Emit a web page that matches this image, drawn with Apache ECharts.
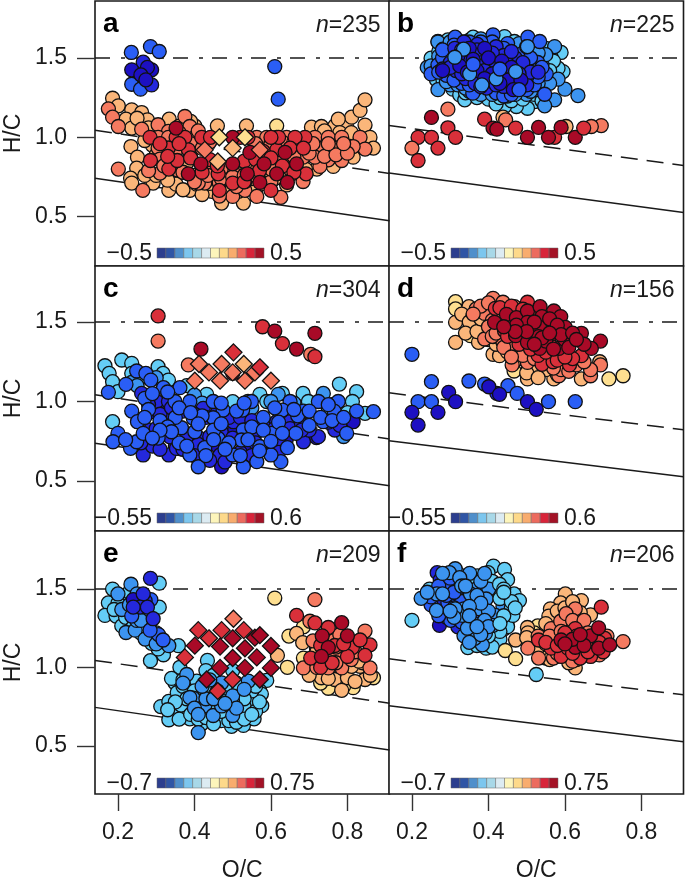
<!DOCTYPE html>
<html>
<head>
<meta charset="utf-8">
<style>html,body{margin:0;padding:0;background:#fff}</style>
<script src="https://cdn.jsdelivr.net/npm/echarts@6/dist/echarts.min.js"></script>
</head>
<body>
<div id="chart" style="width:685px;height:883px"></div>
<script>
// [O/C, H/C, colour class], colour class runs 0 (most negative) to 11 (most positive)
const pointsA = [
[.186,1.246,8],[.201,1.198,8],[.236,1.173,8],[.221,1.114,8],[.262,1.156,8],[.277,1.11,8],[.236,1.058,8],[.334,1.114,8],[.401,1.072,8],[.46,1.072,8],[.536,1.072,8],[.615,1.072,7],[.706,1.064,8],[.732,1.068,8],[.767,1.072,8],[.798,1.068,8],[.811,1.127,8],[.776,1.114,8],[.833,1.169,8],[.846,1.236,8],[.846,1.077,8],[.859,1,8],[.868,.932,8],[.234,.942,8],[.251,.875,8],[.249,.806,8],[.233,.743,8],[.236,.712,8],[.292,.712,8],[.333,.666,8],[.352,.705,8],[.388,.666,8],[.471,.586,8],[.528,.586,8],[.406,.705,8],[.763,.817,8],[.815,.875,8],[.51,.775,8],[.641,.7,8],[.563,.817,8],[.29,.95,8],[.27,.98,8],[.32,.79,8],[.4,.76,8],[.445,.66,8],[.515,.66,8],[.56,.67,8],[.45,.79,8],[.54,.8,8],[.6,.78,8],[.72,.8,8],
[.3,.89,8],[.33,.87,8],[.38,.84,8],[.27,.76,8],[.3,.76,8],[.33,.73,8],[.37,.67,8],[.42,.64,8],[.44,.71,8],[.48,.68,8],[.52,.72,8],[.55,.74,8],[.58,.71,8],[.61,.74,8],[.65,.76,8],[.69,.8,8],[.745,.86,8],[.8,.94,8],[.83,.96,8],[.74,1.04,8],[.78,1.03,8],[.81,1.03,8],[.3,1.05,8],[.39,1.1,8],[.36,1.07,8],[.28,1.06,8],[.25,1.12,8],
[.175,1.179,9],[.186,1.127,9],[.201,1.068,9],[.262,1.051,9],[.201,.8,9],[.265,.666,9],[.375,1.131,9],[.305,1.079,9],[.332,1.037,9],[.388,1.068,9],[.305,1,9],[.332,1,9],[.401,1,9],[.563,1,9],[.589,1,9],[.615,1,9],[.641,1,9],[.715,1,9],[.75,1,9],[.785,1,9],[.833,1,9],[.846,.926,9],[.815,.942,9],[.772,.932,9],[.737,.932,9],[.75,.858,9],[.785,.854,9],[.728,.817,9],[.715,.875,9],[.684,.875,9],[.305,.932,9],[.332,.932,9],[.358,.932,9],[.31,.863,9],[.355,.795,9],[.31,.775,9],[.427,.712,9],[.41,.712,9],[.465,.712,9],[.5,.628,9],[.532,.666,9],[.563,.628,9],[.626,.622,9],[.5,.785,9],[.532,.722,9],[.684,.722,9],[.39,.88,9],[.43,.8,9],[.47,.8,9],[.56,.76,9],[.65,.8,9],[.6,.72,9],[.465,.63,9],[.68,.97,9],
[.36,1.03,9],[.41,1.04,9],[.44,.97,9],[.32,.82,9],[.34,.84,9],[.28,.79,9],[.37,.78,9],[.4,.72,9],[.435,.76,9],[.47,.74,9],[.5,.75,9],[.53,.76,9],[.565,.8,9],[.6,.8,9],[.63,.85,9],[.66,.88,9],[.7,.9,9],[.74,.88,9],[.77,.89,9],[.8,.9,9],[.71,.96,9],[.75,.96,9],[.79,.96,9],[.6,.96,9],[.63,.97,9],[.66,.97,9],[.56,.96,9],[.39,.96,9],[.36,.97,9],[.42,.93,9],[.51,.69,9],
[.284,1,10],[.352,1,10],[.375,1,10],[.332,.932,10],[.384,.921,10],[.285,.854,10],[.333,.8,10],[.355,.854,10],[.419,1,10],[.442,1,10],[.689,1,10],[.663,1,10],[.615,.921,10],[.65,.932,10],[.685,.932,10],[.692,.77,10],[.462,.77,10],[.5,.712,10],[.465,.666,10],[.6,.666,10],[.58,.911,10],[.52,1,10],[.54,1,10],
[.31,.96,10],[.36,.96,10],[.33,.88,10],[.39,.87,10],[.44,.86,10],[.42,.78,10],[.46,.82,10],[.53,.85,10],[.56,.86,10],[.6,.87,10],[.63,.82,10],[.66,.78,10],[.57,.79,10],[.53,.72,10],[.62,1,10],[.6,1,10],
[.352,1.058,11],[.5,1,11],[.417,.833,11],[.5,.833,11],[.538,.77,11],[.582,.833,11],[.571,.716,11],[.615,.77,11],[.643,.716,11],[.637,.905,11],[.667,.833,11],[.545,.905,11],[.384,.77,11],
[.235,1.534,2],[.285,1.571,2],[.308,1.54,2],[.236,1.334,2],[.259,1.303,2],[.61,1.445,2],[.619,1.24,2],[.288,1.33,1],[.266,1.473,1],[.236,1.425,0],[.288,1.425,0],[.277,1.44,0],[.26,1.393,0],[.273,1.362,0]
];
const diamondsA = [[.465,1,7],[.532,1,7],[.5,.932,8],[.461,.848,8],[.427,.921,9],[.571,.921,9]];

const pointsB = [
[.268,1.603,4],[.294,1.613,4],[.25,1.498,4],[.264,1.362,4],[.281,1.362,4],[.307,1.303,4],[.325,1.267,4],[.338,1.236,4],[.442,1.634,4],[.468,1.603,4],[.59,1.534,4],[.564,1.504,4],[.538,1.54,4],[.595,1.414,4],[.582,1.435,4],[.521,1.225,4],[.502,1.183,4],[.473,1.194,4],[.442,1.194,4],[.407,1.592,4],[.351,1.613,4],[.37,1.58,4],[.4,1.24,4],[.42,1.21,4],[.55,1.46,4],[.56,1.4,4],
[.27,1.54,4],[.29,1.58,4],[.3,1.39,4],[.34,1.28,4],[.37,1.25,4],[.43,1.25,4],[.46,1.23,4],[.49,1.24,4],[.52,1.27,4],[.54,1.23,4],[.5,1.6,4],[.52,1.57,4],[.55,1.56,4],[.57,1.48,4],[.56,1.42,4],[.33,1.6,4],[.36,1.63,4],
[.6,1.303,3],[.582,1.366,3],[.573,1.236,3],[.547,1.198,3],[.268,1.6,3],[.281,1.555,3],[.573,1.571,3],[.634,1.263,3],[.268,1.3,3],[.3,1.33,3],[.48,1.48,3],[.53,1.3,3],[.55,1.33,3],[.5,1.27,3],[.45,1.26,3],[.38,1.27,3],[.35,1.29,3],[.52,1.49,3],[.56,1.34,3],[.43,1.55,3],[.36,1.53,3],[.24,1.44,3],
[.25,1.45,3],[.26,1.41,3],[.29,1.35,3],[.32,1.33,3],[.34,1.31,3],[.37,1.31,3],[.41,1.27,3],[.44,1.29,3],[.47,1.27,3],[.51,1.29,3],[.53,1.34,3],[.54,1.4,3],[.54,1.46,3],[.55,1.52,3],[.53,1.53,3],[.48,1.59,3],[.38,1.62,3],[.33,1.58,3],[.3,1.6,3],[.27,1.51,3],
[.412,1.645,2],[.313,1.63,2],[.503,1.63,2],[.534,1.603,2],[.25,1.399,2],[.268,1.456,2],[.359,1.278,2],[.529,1.471,2],[.551,1.399,2],[.547,1.271,2],[.32,1.39,2],[.51,1.36,2],[.47,1.33,2],[.41,1.31,2],[.33,1.34,2],[.28,1.5,2],[.31,1.58,2],[.45,1.59,2],[.52,1.42,2],[.4,1.42,2],[.49,1.53,2],
[.28,1.55,2],[.29,1.39,2],[.31,1.36,2],[.35,1.33,2],[.38,1.36,2],[.42,1.28,2],[.44,1.26,2],[.46,1.27,2],[.5,1.3,2],[.52,1.33,2],[.53,1.38,2],[.54,1.44,2],[.51,1.5,2],[.5,1.57,2],[.44,1.56,2],[.41,1.6,2],[.38,1.6,2],[.35,1.6,2],[.32,1.55,2],[.27,1.41,2],
[.336,1.6,1],[.371,1.585,1],[.312,1.56,1],[.42,1.57,1],[.345,1.52,1],[.39,1.52,1],[.44,1.515,1],[.47,1.5,1],[.3,1.47,1],[.335,1.47,1],[.372,1.49,1],[.41,1.48,1],[.45,1.46,1],[.49,1.42,1],[.28,1.43,1],[.315,1.42,1],[.35,1.43,1],[.385,1.45,1],[.425,1.39,1],[.46,1.37,1],[.5,1.38,1],[.34,1.37,1],[.375,1.39,1],[.41,1.36,1],[.44,1.32,1],[.365,1.34,1],[.395,1.31,1],[.5,1.33,1],
[.33,1.55,1],[.37,1.55,1],[.41,1.53,1],[.46,1.54,1],[.49,1.47,1],[.51,1.41,1],[.53,1.41,1],[.47,1.33,1],[.42,1.33,1],[.38,1.32,1],[.33,1.4,1],[.3,1.44,1],[.39,1.42,1],[.44,1.42,1],[.48,1.4,1],
[.35,1.56,0],[.39,1.56,0],[.32,1.51,0],[.36,1.49,0],[.4,1.5,0],[.435,1.48,0],[.46,1.44,0],[.325,1.45,0],[.37,1.42,0],[.41,1.4,0],[.45,1.36,0],[.345,1.41,0],[.39,1.37,0],[.43,1.34,0],[.485,1.36,0],[.465,1.3,0],[.28,1.42,0],
[.351,1.399,3],[.383,1.33,3],[.42,1.368,3],[.471,1.414,3],[.335,1.555,3],[.312,1.504,3],[.502,1.571,3],[.48,1.3,2],[.43,1.43,2],[.36,1.46,2],
[.251,1.125,11],[.294,1.177,9],[.294,1.06,10],[.314,1,10],[.216,1,10],[.251,1,10],[.2,.932,9],[.268,.932,10],[.216,.854,10],[.39,1.114,10],[.438,1.127,8],[.445,1.11,9],[.412,1.058,11],[.422,1.051,11],[.471,1.058,10],[.502,1,11],[.603,1.068,8],[.531,1.062,11],[.573,1,10],[.557,1,11],[.59,1.062,11],[.627,1,11],[.695,1.074,9],[.669,1.068,9],[.649,1.058,10]
];

const pointsC = [
[.166,1.225,4],[.177,1.177,4],[.21,1.261,4],[.186,1.125,4],[.2,1.062,4],[.236,1.24,4],[.236,1.177,4],[.305,1.219,4],[.318,1.177,4],[.332,1.135,4],[.432,1.045,4],[.5,.999,4],[.571,1.045,4],[.63,1.051,4],[.684,1.051,4],[.779,1.11,4],[.824,1.062,4],[.846,.926,4],[.186,.873,4],[.589,1,4],[.698,1,4],[.75,.96,4],[.813,1,4],[.8,.93,4],[.38,1.1,4],[.26,1.15,4],
[.619,1.045,3],[.737,1.051,3],[.236,1.12,3],[.25,1.1,3],[.3,1.15,3],[.6,1,3],[.66,.99,3],[.55,.96,3],[.76,.98,3],[.79,.78,3],[.4,1.04,3],[.62,.94,3],[.42,.99,3],[.54,1,3],
[.314,.946,0],[.292,.936,0],[.815,.873,0],[.719,.773,0],[.471,.59,0],[.64,.76,0],[.46,.72,0],[.5,.8,0],[.35,.72,0],[.42,.7,0],[.54,.68,0],
[.262,1.051,1],[.301,1,1],[.336,.905,1],[.332,1,1],[.284,.82,1],[.336,.778,1],[.355,.842,1],[.423,.957,1],[.502,.873,1],[.563,.81,1],[.685,.747,1],[.724,.779,1],[.767,.821,1],[.619,.758,1],[.266,.664,1],[.333,.664,1],[.467,.664,1],[.528,.632,1],[.414,.768,1],[.353,.705,1],[.65,.873,1],[.615,.873,1],
[.28,.98,1],[.31,.92,1],[.34,.96,1],[.37,.94,1],[.4,.92,1],[.43,.9,1],[.46,.93,1],[.49,.9,1],[.52,.9,1],[.55,.88,1],[.58,.85,1],[.61,.83,1],[.65,.83,1],[.68,.86,1],[.7,.82,1],[.75,.87,1],[.78,.85,1],[.3,.83,1],[.33,.83,1],[.38,.78,1],[.41,.73,1],[.44,.78,1],[.47,.81,1],[.5,.77,1],[.53,.79,1],[.56,.74,1],[.59,.71,1],[.62,.68,1],[.37,.7,1],[.4,.66,1],[.44,.63,1],[.48,.62,1],[.52,.68,1],[.29,.72,1],[.31,.7,1],[.26,.74,1],[.55,.66,1],[.68,.82,1],
[.175,1.058,2],[.221,1.108,2],[.249,1.192,2],[.273,1.177,2],[.286,1.135,2],[.319,1.087,2],[.362,1.087,2],[.236,.94,2],[.251,.873,2],[.2,.8,2],[.187,.747,2],[.233,.706,2],[.249,.747,2],[.266,.8,2],[.312,.873,2],[.305,.77,2],[.349,1,2],[.388,1,2],[.449,1,2],[.549,1,2],[.65,1,2],[.724,1,2],[.776,1,2],[.868,.936,2],[.824,.94,2],[.765,.94,2],[.737,.873,2],[.685,.94,2],[.63,.946,2],[.526,.946,2],[.475,.946,2],[.449,.898,2],[.397,.894,2],[.366,.835,2],[.401,.81,2],[.462,.768,2],[.528,.821,2],[.602,.8,2],[.571,.716,2],[.643,.71,2],[.665,.8,2],[.523,.758,2],[.5,.664,2],[.427,.71,2],[.388,.664,2],[.41,.59,2],[.528,.59,2],[.563,.622,2],[.626,.622,2],[.6,.664,2],[.798,.8,2],[.7,.85,2],[.58,.9,2],[.35,.9,2],[.45,.82,2],[.49,.74,2],[.36,.74,2],
[.27,1.02,2],[.29,1.05,2],[.33,1.06,2],[.28,.95,2],[.31,.88,2],[.33,.84,2],[.27,.9,2],[.36,.96,2],[.42,.91,2],[.39,.93,2],[.47,.86,2],[.51,.94,2],[.55,.84,2],[.58,.82,2],[.62,.87,2],[.67,.91,2],[.7,.94,2],[.73,.9,2],[.76,.88,2],[.79,.9,2],[.63,.8,2],[.54,.76,2],[.48,.7,2],[.43,.66,2],[.38,.72,2],[.34,.81,2],[.31,.82,2],[.29,.77,2],[.22,.76,2],[.45,.76,2],[.57,.69,2],[.52,.66,2],[.6,.75,2],[.41,.86,2],[.47,.99,2],[.53,.99,2],[.66,.95,2],[.75,.98,2],[.61,.96,2],
[.305,1.538,10],[.305,1.38,9],[.417,1.33,11],[.384,1.23,9],[.578,1.47,10],[.61,1.443,11],[.63,1.364,10],[.667,1.33,11],[.715,1.429,11],[.704,1.297,9],[.715,1.282,10],[.5,1.177,11]
];
const diamondsC = [[.502,1.309,10],[.412,1.236,9],[.471,1.236,9],[.529,1.236,8],[.558,1.183,9],[.571,1.215,10],[.438,1.183,9],[.5,1.183,9],[.401,1.131,9],[.467,1.131,9],[.532,1.131,9],[.6,1.131,9]];

const pointsD = [
[.314,1.628,7],[.314,1.582,7],[.353,1.414,7],[.475,1.324,7],[.467,1.192,7],[.715,1.142,7],[.752,1.162,7],
[.314,1.498,8],[.314,1.372,8],[.349,1.596,8],[.33,1.55,8],[.372,1.481,8],[.39,1.45,8],[.374,1.372,8],[.412,1.297,8],[.429,1.288,8],[.502,1.142,8],[.531,1.188,8],[.571,1.142,8],[.643,1.142,8],[.691,1.25,8],[.504,1.23,8],[.55,1.2,8],[.52,1.22,8],[.36,1.54,8],[.35,1.5,8],[.4,1.39,8],[.58,1.17,8],
[.34,1.43,8],[.37,1.44,8],[.42,1.36,8],[.45,1.31,8],[.48,1.27,8],[.5,1.18,8],[.53,1.15,8],[.6,1.2,8],[.47,1.26,8],[.38,1.52,8],
[.412,1.649,9],[.438,1.624,9],[.368,1.582,9],[.468,1.596,9],[.39,1.554,9],[.412,1.408,9],[.39,1.393,9],[.438,1.372,9],[.462,1.23,9],[.502,1.246,9],[.584,1.162,9],[.667,1.162,9],[.693,1.23,9],[.667,1.2,9],[.59,1.2,9],[.43,1.45,9],[.41,1.51,9],[.4,1.47,9],[.46,1.36,9],[.55,1.28,9],[.61,1.19,9],
[.38,1.6,9],[.36,1.55,9],[.4,1.62,9],[.43,1.57,9],[.41,1.41,9],[.44,1.34,9],[.49,1.29,9],[.52,1.27,9],[.57,1.21,9],[.63,1.23,9],[.65,1.25,9],[.46,1.28,9],[.42,1.43,9],
[.418,1.586,10],[.447,1.502,10],[.442,1.445,10],[.502,1.624,10],[.54,1.234,10],[.643,1.288,10],[.612,1.23,10],[.564,1.492,10],[.503,1.366,10],[.569,1.25,10],[.47,1.45,10],[.58,1.3,10],[.6,1.33,10],[.53,1.29,10],[.47,1.56,10],[.5,1.42,10],[.56,1.36,10],
[.43,1.59,10],[.46,1.6,10],[.49,1.58,10],[.45,1.41,10],[.48,1.36,10],[.51,1.33,10],[.55,1.31,10],[.58,1.26,10],[.62,1.27,10],[.6,1.28,10],[.52,1.54,10],[.49,1.47,10],
[.447,1.548,11],[.473,1.527,11],[.502,1.569,11],[.535,1.596,11],[.571,1.569,11],[.54,1.534,11],[.589,1.534,11],[.601,1.466,11],[.534,1.466,11],[.502,1.498,11],[.471,1.414,11],[.502,1.372,11],[.531,1.408,11],[.571,1.429,11],[.643,1.429,11],[.617,1.38,11],[.693,1.38,11],[.669,1.334,11],[.584,1.334,11],[.534,1.334,11],[.416,1.498,11],[.473,1.48,11],[.55,1.38,11],[.6,1.39,11],
[.52,1.5,11],[.56,1.52,11],[.58,1.48,11],[.5,1.44,11],[.47,1.44,11],[.54,1.4,11],[.59,1.42,11],[.62,1.43,11],[.57,1.33,11],[.61,1.34,11],[.65,1.36,11],[.52,1.36,11],[.56,1.43,11],[.44,1.47,11],[.63,1.39,11],
[.2,1.297,2],[.251,1.125,2],[.349,1.129,2],[.39,1.11,2],[.451,1.1,2],[.475,1.051,2],[.422,1.051,1],[.216,.999,2],[.251,.999,2],[.557,.999,2],[.627,.999,2],[.401,1.093,0],[.429,1.045,0],[.296,1.058,0],[.314,.999,0],[.2,.932,0],[.268,.932,0],[.216,.852,0],[.502,.999,0],[.525,.951,0]
];

const pointsE = [
[.186,1.5,4],[.308,1.538,4],[.175,1.412,4],[.166,1.332,4],[.195,1.328,4],[.21,1.265,4],[.358,1.139,4],[.308,1.385,4],[.319,1.081,4],[.285,1.043,4],[.305,1.118,4],[.214,1.448,4],[.288,1.154,4],
[.2,1.41,4],[.22,1.32,4],[.24,1.26,4],[.26,1.22,4],[.19,1.37,4],[.3,1.22,4],[.23,1.48,4],
[.234,1.531,3],[.2,1.469,3],[.21,1.37,3],[.221,1.223,3],[.245,1.238,3],[.249,1.3,3],[.285,1.29,3],[.271,1.181,3],[.333,1.139,3],[.275,1.343,3],[.3,1.15,3],[.25,1.47,3],[.23,1.4,3],[.26,1.3,3],
[.285,1.569,1],[.286,1.433,2],[.236,1.328,2],[.306,1.21,2],[.284,1.238,2],[.318,1.175,2],[.271,1.427,1],
[.24,1.433,0],[.266,1.469,1],[.258,1.385,1],[.24,1.385,1],[.277,1.385,1],[.292,1.311,1],
[.312,.75,4],[.333,.783,4],[.352,.708,4],[.333,.666,4],[.349,.902,4],[.362,1.001,4],[.434,1.045,4],[.388,.672,4],[.406,.703,4],[.373,.84,4],[.355,.84,4],[.419,.64,4],[.497,.624,4],[.528,.63,4],[.556,.672,4],[.576,.756,4],[.589,.917,4],[.571,.85,4],[.551,.798,4],[.523,.854,4],[.388,.77,4],[.427,.85,4],[.528,.693,4],[.406,.913,4],[.5,.703,4],[.471,.808,4],[.449,.85,4],[.365,.76,4],[.42,.73,4],[.45,.7,4],[.53,.75,4],[.56,.72,4],[.575,.83,4],[.34,.93,4],[.37,.92,4],[.43,.98,4],[.5,.98,4],
[.37,.88,4],[.38,.8,4],[.35,.78,4],[.33,.73,4],[.36,.67,4],[.39,.7,4],[.41,.67,4],[.43,.68,4],[.47,.66,4],[.49,.66,4],[.51,.65,4],[.53,.67,4],[.55,.7,4],[.57,.78,4],[.55,.85,4],[.51,.9,4],[.48,.87,4],[.45,.95,4],[.4,.85,4],[.41,.78,4],[.44,.74,4],[.47,.72,4],[.53,.8,4],[.5,.78,4],[.56,.88,4],[.45,.64,4],
[.38,.955,3],[.397,.804,3],[.41,.584,3],[.427,.756,3],[.449,.693,3],[.5,.819,3],[.5,.693,3],[.471,.902,3],[.541,.913,3],[.388,.808,3],[.471,.754,3],[.43,.8,3],[.46,.85,3],[.4,.74,3],[.51,.74,3],[.42,.88,3],[.45,.8,3],[.41,.7,3],[.48,.77,3],[.44,.92,3],[.53,.86,3],[.37,.9,3],
[.647,1.2,7],[.61,1.443,7],[.685,1.259,7],[.643,1.001,7],[.685,1.06,7],[.75,.867,7],[.815,.871,7],[.868,.934,7],[.73,.9,7],[.79,.88,7],
[.617,1.077,8],[.667,1.217,8],[.683,1.158,8],[.719,1.122,8],[.732,.934,8],[.767,.923,8],[.8,.934,8],[.785,.854,8],[.846,.923,8],[.833,1.007,8],[.811,1.007,8],[.75,.93,8],[.71,1.06,8],[.84,1.03,8],[.7,.95,8],[.82,.91,8],[.86,.95,8],[.83,1.04,8],[.72,1.1,8],
[.715,1.433,9],[.702,1.295,9],[.846,1.232,9],[.767,1.175,9],[.685,.997,9],[.767,1.081,9],[.75,.997,9],[.859,.997,9],[.785,.997,9],[.72,1,9],[.73,1.03,9],[.77,1.03,9],[.81,1.05,9],[.77,1.13,9],[.71,1.17,9],[.82,1.1,9],[.78,1.21,9],
[.667,1.332,10],[.715,1.284,10],[.75,1.255,10],[.813,1.127,10],[.859,1.144,10],[.846,1.077,10],[.8,1.07,10],[.704,1.06,10],[.767,1.14,10],[.833,1.175,10],[.73,1,10],[.73,1.14,10],[.79,1.15,10],[.76,1.03,10],
[.785,1.286,11],[.734,1.202,11],[.8,1.202,11],[.75,1.127,11],[.732,1.07,11]
];
const diamondsE = [[.502,1.311,9],[.41,1.238,10],[.471,1.238,10],[.529,1.238,10],[.558,1.19,11],[.571,1.206,11],[.438,1.186,10],[.5,1.186,11],[.401,1.139,11],[.467,1.133,11],[.532,1.122,11],[.6,1.137,11],[.375,1.064,10],[.5,1.06,11],[.563,1.064,11],[.467,.997,11],[.532,.997,11],[.6,.997,11],[.432,.923,11],[.5,.923,10],[.571,.923,11],[.461,.85,10]];

const pointsF = [
[.2,1.301,4],[.413,1.647,4],[.442,1.626,4],[.399,1.605,4],[.442,1.248,4],[.412,1.175,4],[.346,1.127,4],[.394,1.123,4],[.371,1.584,4],[.246,1.5,4],[.43,1.18,4],[.45,1.3,4],[.525,.955,4],
[.45,1.56,4],[.41,1.55,4],[.45,1.26,4],[.43,1.23,4],[.37,1.14,4],[.41,1.13,4],[.4,1.2,4],[.35,1.56,4],[.32,1.6,4],[.3,1.47,4],
[.272,1.269,0],
[.266,1.605,1],[.274,1.559,1],[.29,1.322,1],[.32,1.259,1],[.338,1.406,1],[.27,1.42,1],
[.294,1.531,2],[.316,1.469,2],[.294,1.412,2],[.25,1.399,2],[.301,1.301,2],[.346,1.437,2],[.39,1.32,2],[.33,1.29,2],[.27,1.52,2],[.3,1.57,2],[.29,1.46,2],[.33,1.42,2],[.27,1.33,2],[.31,1.38,2],[.36,1.3,2],[.34,1.36,2],[.31,1.48,2],[.25,1.45,2],
[.313,1.63,3],[.351,1.601,3],[.298,1.605,3],[.224,1.441,3],[.264,1.364,3],[.336,1.374,3],[.368,1.5,3],[.401,1.5,3],[.438,1.391,3],[.418,1.332,3],[.412,1.269,3],[.392,1.217,3],[.336,1.202,3],[.384,1.144,3],[.359,1.284,3],[.377,1.374,3],[.333,1.332,3],[.364,1.186,3],[.265,1.469,3],[.313,1.374,3],[.394,1.437,3],[.325,1.573,3],[.353,1.469,3],[.4,1.36,3],[.345,1.25,3],[.39,1.3,3],[.38,1.55,3],
[.28,1.6,3],[.33,1.52,3],[.37,1.46,3],[.38,1.41,3],[.35,1.39,3],[.31,1.32,3],[.35,1.33,3],[.4,1.26,3],[.38,1.21,3],[.35,1.16,3],[.37,1.26,3],[.3,1.36,3],[.24,1.48,3],[.28,1.47,3],[.34,1.52,3],[.39,1.6,3],
[.429,1.531,4],[.467,1.469,4],[.481,1.427,4],[.46,1.385,4],[.464,1.332,4],[.44,1.33,4],[.43,1.44,4],[.44,1.5,4],[.46,1.42,4],[.44,1.48,4],[.43,1.28,4],[.47,1.38,4],
[.444,1.108,7],[.471,1.056,7],[.529,1.265,7],[.52,1.22,7],
[.471,1.175,8],[.502,1.255,8],[.503,1.221,8],[.601,1.469,8],[.589,1.412,8],[.643,1.427,8],[.562,1.374,8],[.558,1.328,8],[.667,1.336,8],[.627,.997,8],[.6,1.31,8],[.55,1.06,8],[.61,1.03,8],[.64,1.27,8],
[.5,1.19,8],[.55,1.28,8],[.58,1.36,8],[.6,1.38,8],[.62,1.42,8],[.64,1.35,8],[.53,1.13,8],[.56,1.05,8],[.6,1.08,8],[.63,1.05,8],
[.564,1.248,9],[.589,1.295,9],[.627,1.374,9],[.603,1.343,9],[.503,1.123,9],[.531,1.06,9],[.752,1.165,9],[.634,1.248,9],[.67,1.12,9],[.65,1.18,9],[.57,1.06,9],[.69,1.08,9],
[.53,1.2,9],[.56,1.2,9],[.59,1.23,9],[.62,1.3,9],[.65,1.3,9],[.68,1.19,9],[.61,1.13,9],[.58,1.09,9],[.62,1.04,9],[.7,1.13,9],[.71,1.2,9],[.55,1.15,9],[.66,1.22,9],
[.531,1.175,10],[.564,1.123,10],[.627,1.248,10],[.59,1.07,10],[.667,1.07,10],[.695,1.385,10],[.608,1.123,10],[.704,1.185,10],[.651,1.123,10],[.64,1.06,10],[.64,1.19,10],[.6,1.2,10],
[.55,1.16,10],[.58,1.14,10],[.61,1.17,10],[.63,1.2,10],[.66,1.15,10],[.69,1.16,10],[.62,1.09,10],[.66,1.1,10],[.6,1.22,10],[.7,1.1,10],
[.59,1.175,11],[.627,1.129,11],[.667,1.202,11],[.688,1.253,11],[.688,1.123,11],[.717,1.144,11],[.62,1.18,11],[.65,1.14,11],[.6,1.15,11],[.64,1.21,11]
];

const panelPoints = [pointsA, pointsB, pointsC, pointsD, pointsE, pointsF];
const panelDiamonds = [diamondsA, [], diamondsC, [], diamondsE, []];
const panelLetters = ['a', 'b', 'c', 'd', 'e', 'f'];
const panelCounts = ['235', '225', '304', '156', '209', '206'];
const scaleLow = ['−0.5', '−0.5', '−0.55', '−0.55', '−0.7', '−0.7'];
const scaleHigh = ['0.5', '0.5', '0.6', '0.6', '0.75', '0.75'];

// end points of the reference lines, [H/C at left edge, H/C at right edge]
const dashLines = [[1.044, .772], [1.075, .822], [1.042, .765], [1.055, .822], [1.045, .772], [1.055, .825]];
const solidLines = [[.742, .475], [.775, .527], [.738, .47], [.753, .527], [.745, .473], [.756, .525]];
const dotDashLevel = 1.5;

const xTicks = [0.2, 0.4, 0.6, 0.8];
const yTicks = [0.5, 1.0, 1.5];

const pointColors = ['#1d10c2', '#2428dc', '#2a5ef5', '#3c94f0', '#64cdf6', '#b5e3f2', '#fff2b0', '#fedf90', '#fbb67a', '#f57a60', '#d9303a', '#a90a27'];
const barColors = ['#2c3e8e', '#2f55a5', '#4f8fcb', '#7cc6ee', '#a8d8e8', '#dcebf2', '#fdf5bb', '#fdd98a', '#f8ac6e', '#ec6b5e', '#d8243a', '#a31226'];

const fontName = '"Liberation Sans", Arial, sans-serif';
const X_MIN = 0.14, X_MAX = 0.91;
const rowTops = [1, 266, 531];
const rowHeights = [265, 265, 267];
const colLefts = [95, 389];
const colWidth = 294.5;
const yRanges = [[.19, 1.858], [.186, 1.852], [.192, 1.871]];

const chart = echarts.init(document.getElementById('chart'));

const grids = [], xAxes = [], yAxes = [], series = [], graphics = [];

panelLetters.forEach((letter, i) => {
    const col = i % 2, row = Math.floor(i / 2);
    const left = colLefts[col], top = rowTops[row];
    const isBottom = row === 2, isLeft = col === 0;

    grids.push({
        left: left, top: top, width: colWidth, height: rowHeights[row],
        show: true, borderColor: '#1a1a1a', borderWidth: 1.6, backgroundColor: '#fff'
    });
    xAxes.push({
        gridIndex: i, type: 'value', min: X_MIN, max: X_MAX,
        name: isBottom ? 'O/C' : '', nameLocation: 'middle', nameGap: 65,
        nameTextStyle: { fontFamily: fontName, fontSize: 23, color: '#1a1a1a' },
        axisLine: { show: false },
        splitLine: { show: false },
        axisTick: { show: isBottom, length: 17, lineStyle: { color: '#333', width: 1.4 }, customValues: xTicks },
        axisLabel: {
            show: isBottom, margin: 27, fontFamily: fontName, fontSize: 23, color: '#1a1a1a',
            customValues: xTicks, formatter: v => v.toFixed(1)
        }
    });
    yAxes.push({
        gridIndex: i, type: 'value', min: yRanges[row][0], max: yRanges[row][1],
        name: isLeft ? 'H/C' : '', nameLocation: 'middle', nameGap: 70, nameRotate: 90,
        nameTextStyle: { fontFamily: fontName, fontSize: 23, color: '#1a1a1a' },
        axisLine: { show: false },
        splitLine: { show: false },
        axisTick: { show: isLeft, length: 18, lineStyle: { color: '#333', width: 1.4 }, customValues: yTicks },
        axisLabel: {
            show: isLeft, margin: 28, fontFamily: fontName, fontSize: 23, color: '#1a1a1a',
            customValues: yTicks, formatter: v => v.toFixed(1)
        }
    });

    const refLine = (data, type, width) => ({
        type: 'line', xAxisIndex: i, yAxisIndex: i, data: data, showSymbol: false, silent: true,
        lineStyle: { color: '#1a1a1a', width: width, type: type }, z: 2, animation: false
    });
    series.push(refLine([[X_MIN, dotDashLevel], [X_MAX, dotDashLevel]], [15, 11, 4, 9], 1.5));
    series.push(refLine([[X_MIN, dashLines[i][0]], [X_MAX, dashLines[i][1]]], [17, 9], 1.5));
    series.push(refLine([[X_MIN, solidLines[i][0]], [X_MAX, solidLines[i][1]]], 'solid', 1.5));

    const markStyle = {
        color: p => pointColors[p.value[2]],
        borderColor: '#111', borderWidth: 1.3, opacity: 1
    };
    series.push({
        type: 'scatter', xAxisIndex: i, yAxisIndex: i, data: panelPoints[i],
        symbol: 'circle', symbolSize: 14, itemStyle: markStyle, z: 3, animation: false
    });
    if (panelDiamonds[i].length) {
        series.push({
            type: 'scatter', xAxisIndex: i, yAxisIndex: i, data: panelDiamonds[i],
            symbol: 'diamond', symbolSize: 17, itemStyle: markStyle, z: 4, animation: false
        });
    }

    const barLeft = left + 62;
    const barTop = top + rowHeights[row] - (isBottom ? 20 : 18);
    graphics.push({
        type: 'text', left: left + 8, top: top + 9, z: 10,
        style: { text: letter, font: 'bold 28px ' + fontName, fill: '#000' }
    });
    graphics.push({
        type: 'text', right: 685 - (left + colWidth - 9), top: top + 13, z: 10,
        style: {
            text: '{i|n}=' + panelCounts[i], font: '23px ' + fontName, fill: '#1a1a1a',
            rich: { i: { fontStyle: 'italic', fontSize: 23, fontFamily: fontName, fill: '#1a1a1a' } }
        }
    });
    graphics.push({
        type: 'text', x: barLeft - 5, y: barTop + 6, z: 10,
        style: { text: scaleLow[i], font: '23px ' + fontName, fill: '#1a1a1a', textAlign: 'right', textVerticalAlign: 'middle' }
    });
    graphics.push({
        type: 'text', x: barLeft + 107 + 6, y: barTop + 6, z: 10,
        style: { text: scaleHigh[i], font: '23px ' + fontName, fill: '#1a1a1a', textAlign: 'left', textVerticalAlign: 'middle' }
    });
    barColors.forEach((c, k) => {
        graphics.push({
            type: 'rect', z: 10,
            shape: { x: barLeft + k * 107 / 12, y: barTop, width: 107 / 12, height: 10 },
            style: { fill: c, stroke: '#666', lineWidth: 0.5 }
        });
    });
});

chart.setOption({
    animation: false,
    backgroundColor: '#fff',
    grid: grids,
    xAxis: xAxes,
    yAxis: yAxes,
    series: series,
    graphic: graphics
});
</script>
</body>
</html>
